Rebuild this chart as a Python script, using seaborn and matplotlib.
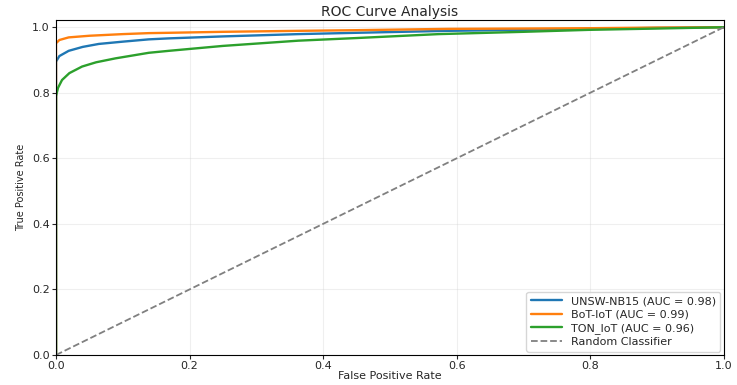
import pandas as pd
import matplotlib
matplotlib.use("Agg")
import matplotlib.pyplot as plt
import seaborn as sns

# ROC points
unsw_fpr = [0.0, 0.0, 0.005, 0.019, 0.04, 0.064, 0.1, 0.139, 0.169, 0.25, 0.363, 0.45, 0.587, 0.7, 0.8, 0.9, 1.0]
unsw_tpr = [0.0, 0.895, 0.912, 0.928, 0.940, 0.949, 0.956, 0.963, 0.966, 0.972, 0.979, 0.983, 0.989, 0.992, 0.995, 0.998, 1.0]

bot_fpr = [0.0, 0.0, 0.005, 0.019, 0.05, 0.1, 0.139, 0.169, 0.25, 0.363, 0.45, 0.587, 0.7, 0.8, 0.9, 1.0]
bot_tpr = [0.0, 0.951, 0.961, 0.969, 0.974, 0.979, 0.982, 0.983, 0.986, 0.989, 0.991, 0.995, 0.996, 0.997, 0.999, 1.0]

ton_fpr = [0.0, 0.0, 0.003, 0.009, 0.02, 0.039, 0.06, 0.089, 0.139, 0.169, 0.25, 0.363, 0.45, 0.573, 0.7, 0.798, 0.9, 1.0]
ton_tpr = [0.0, 0.79, 0.815, 0.839, 0.860, 0.880, 0.893, 0.905, 0.922, 0.928, 0.943, 0.959, 0.967, 0.979, 0.986, 0.992, 0.996, 1.0]

rand_fpr = [0.0, 1.0]
rand_tpr = [0.0, 1.0]

labels = ["UNSW-NB15 (AUC = 0.98)", "BoT-IoT (AUC = 0.99)", "TON_IoT (AUC = 0.96)"]
colors = ["#1f77b4", "#ff7f0e", "#2ca02c"]

sns.set_style("ticks")
plt.rcParams["font.family"] = ["DejaVu Sans"]

fig, ax = plt.subplots(figsize=(7.37, 3.85), dpi=100)
fig.subplots_adjust(left=0.076, right=0.982, top=0.948, bottom=0.078)

curves = [(unsw_fpr, unsw_tpr), (bot_fpr, bot_tpr), (ton_fpr, ton_tpr)]
for (fpr, tpr), lab, col in zip(curves, labels, colors):
    df = pd.DataFrame({"fpr": fpr, "tpr": tpr})
    sns.lineplot(data=df, x="fpr", y="tpr", ax=ax, color=col, linewidth=1.7,
                 label=lab, sort=False, estimator=None)

sns.lineplot(x=rand_fpr, y=rand_tpr, ax=ax, color="gray", linestyle="--",
             linewidth=1.3, label="Random Classifier")

ax.set_xlim(0, 1)
ax.set_ylim(0, 1.022)
ax.set_xticks([0, 0.2, 0.4, 0.6, 0.8, 1.0])
ax.set_yticks([0, 0.2, 0.4, 0.6, 0.8, 1.0])
ax.tick_params(labelsize=8, length=3, pad=1.5)
ax.grid(True, alpha=0.3)
for s in ax.spines.values():
    s.set_color("black")
ax.set_xlabel("False Positive Rate", fontsize=8, labelpad=0)
ax.set_ylabel("True Positive Rate", fontsize=7)
ax.set_title("ROC Curve Analysis", fontsize=10, pad=3)
leg = ax.legend(loc="lower right", fontsize=8, frameon=True, borderaxespad=0.3,
                handlelength=2.8, labelspacing=0.3)
leg.get_frame().set_edgecolor("#cccccc")

plt.savefig("out.png", dpi=100)
plt.close()
